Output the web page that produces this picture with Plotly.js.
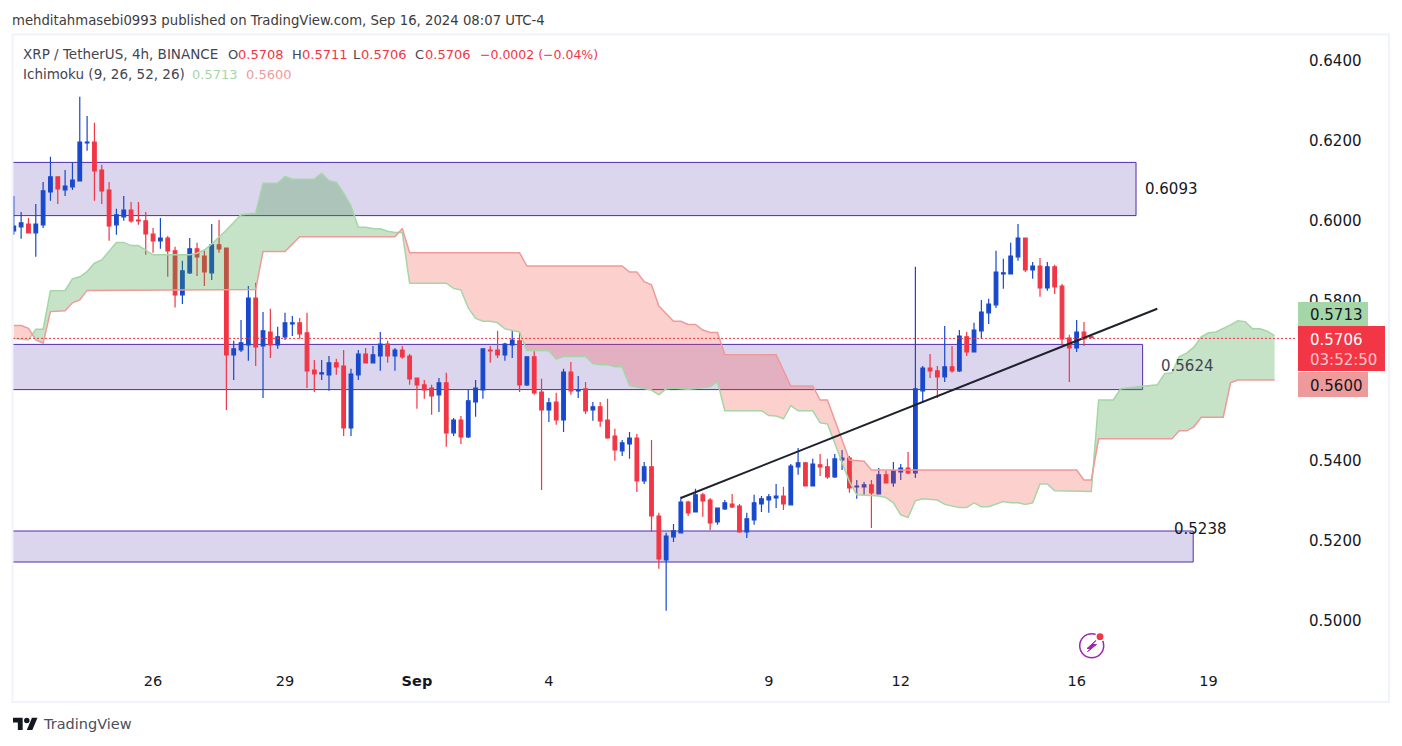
<!DOCTYPE html>
<html>
<head>
<meta charset="utf-8">
<script src="https://cdn.plot.ly/plotly-3.0.1.min.js"></script>
<style>html,body{margin:0;padding:0;background:#fff;overflow:hidden}#chart{width:1402px;height:746px}</style>
</head>
<body>
<div id="chart"></div>
<script>
// ---- candles (4h bars, XRP / TetherUS) ----
const openPrice = [
.5973,.5983,.5990,.5968,.5988,.6070,.6108,.6075,.6083,.6098,
.6193,.6195,.6125,.6075,.5988,.6008,.6025,.6000,.5998,.5965,
.5948,.5955,.5923,.5813,.5868,.5928,.5910,.5868,.5938,.5930,
.5663,.5675,.5688,.5805,.5685,.5720,.5688,.5708,.5740,.5743,
.5718,.5625,.5615,.5613,.5643,.5635,.5480,.5613,.5665,.5643,
.5660,.5690,.5660,.5675,.5660,.5605,.5588,.5580,.5563,.5593,
.5468,.5500,.5458,.5545,.5575,.5675,.5675,.5663,.5688,.5698,
.5588,.5658,.5570,.5525,.5545,.5500,.5620,.5573,.5578,.5525,
.5533,.5500,.5460,.5423,.5440,.5455,.5348,.5383,.5260,.5150,
.5208,.5218,.5295,.5270,.5313,.5300,.5245,.5278,.5290,.5285,
.5220,.5250,.5290,.5300,.5305,.5310,.5288,.5383,.5393,.5335,
.5388,.5383,.5358,.5400,.5405,.5333,.5333,.5338,.5315,.5363,
.5343,.5370,.5380,.5368,.5573,.5630,.5623,.5608,.5633,.5623,
.5708,.5670,.5723,.5768,.5788,.5865,.5865,.5908,.5955,.5875,
.5885,.5830,.5883,.5835,.5705,.5680,.5720,.5708];
const highPrice = [
.6060,.6020,.6005,.6040,.6095,.6158,.6108,.6125,.6145,.6308,
.6260,.6243,.6138,.6095,.6028,.6060,.6045,.6045,.6020,.5980,
.6005,.5960,.5933,.5898,.5955,.5943,.5925,.5990,.6000,.5930,
.5698,.5750,.5835,.5843,.5770,.5778,.5733,.5768,.5760,.5755,
.5768,.5650,.5650,.5660,.5653,.5675,.5628,.5675,.5680,.5685,
.5720,.5698,.5680,.5685,.5665,.5605,.5600,.5588,.5605,.5618,
.5505,.5510,.5575,.5600,.5678,.5685,.5723,.5693,.5723,.5720,
.5658,.5675,.5603,.5555,.5568,.5628,.5645,.5610,.5595,.5545,
.5545,.5553,.5478,.5450,.5470,.5465,.5395,.5450,.5268,.5218,
.5240,.5308,.5298,.5328,.5318,.5305,.5280,.5300,.5315,.5290,
.5268,.5313,.5310,.5315,.5340,.5333,.5390,.5430,.5395,.5403,
.5415,.5403,.5415,.5425,.5410,.5350,.5345,.5350,.5380,.5373,
.5395,.5390,.5420,.5883,.5635,.5665,.5635,.5735,.5685,.5725,
.5720,.5743,.5800,.5803,.5923,.5903,.5943,.5990,.5955,.5895,
.5905,.5895,.5888,.5840,.5713,.5750,.5745,.5711];
const lowPrice = [
.5963,.5953,.5968,.5908,.5980,.6048,.6040,.6060,.6075,.6098,
.6173,.6048,.6040,.5948,.5963,.5998,.5993,.5988,.5913,.5918,
.5928,.5858,.5781,.5790,.5865,.5860,.5835,.5850,.5918,.5525,
.5600,.5670,.5648,.5635,.5555,.5655,.5678,.5700,.5710,.5703,
.5580,.5570,.5600,.5573,.5613,.5460,.5460,.5600,.5643,.5643,
.5623,.5643,.5623,.5653,.5588,.5528,.5553,.5513,.5520,.5433,
.5460,.5440,.5455,.5508,.5553,.5643,.5655,.5648,.5655,.5570,
.5585,.5563,.5325,.5495,.5488,.5470,.5563,.5555,.5515,.5498,
.5483,.5453,.5398,.5410,.5403,.5320,.5340,.5220,.5128,.5023,
.5195,.5218,.5260,.5270,.5258,.5225,.5238,.5275,.5280,.5218,
.5205,.5238,.5270,.5268,.5280,.5275,.5288,.5363,.5335,.5335,
.5360,.5353,.5355,.5375,.5318,.5303,.5313,.5230,.5315,.5343,
.5333,.5350,.5365,.5355,.5545,.5605,.5555,.5595,.5618,.5620,
.5660,.5670,.5703,.5740,.5780,.5828,.5865,.5898,.5870,.5853,
.5808,.5823,.5815,.5685,.5595,.5670,.5685,.5706];
const closePrice = [
.5985,.5993,.5968,.5990,.6073,.6108,.6078,.6085,.6100,.6195,
.6195,.6123,.6073,.5985,.6013,.6025,.5998,.5998,.5965,.5948,
.5955,.5923,.5813,.5873,.5928,.5908,.5870,.5938,.5928,.5663,
.5678,.5693,.5805,.5683,.5723,.5688,.5708,.5743,.5743,.5715,
.5623,.5615,.5618,.5643,.5633,.5480,.5615,.5665,.5643,.5663,
.5690,.5660,.5675,.5658,.5603,.5588,.5575,.5560,.5593,.5468,
.5500,.5458,.5548,.5580,.5678,.5673,.5663,.5690,.5700,.5588,
.5658,.5568,.5525,.5543,.5500,.5620,.5573,.5575,.5523,.5533,
.5498,.5455,.5425,.5443,.5455,.5348,.5383,.5260,.5153,.5210,
.5223,.5295,.5268,.5313,.5298,.5243,.5280,.5293,.5283,.5220,
.5253,.5293,.5303,.5308,.5310,.5290,.5385,.5393,.5335,.5390,
.5383,.5358,.5403,.5405,.5330,.5335,.5338,.5318,.5363,.5343,
.5373,.5380,.5368,.5578,.5630,.5623,.5608,.5633,.5623,.5710,
.5670,.5725,.5770,.5790,.5870,.5868,.5910,.5955,.5875,.5885,
.5830,.5883,.5833,.5703,.5680,.5720,.5703,.5706];

// ---- Ichimoku cloud: vertices (bar number, price) ----
const leadingABar = [0,2,3,4,5,7,8,9,10,11,12,14,15,16,17,19,24,25,26,27,29,31,33,34,36,37,38,41,42,43,44,45,46,47,48,49,50,51,52,53,54,59,60,61,62,63,64,65,66,67,69,70,73,74,75,78,79,80,81,82,83,84,86,87,88,89,90,92,93,95,96,97,102,103,104,105,106,107,109,110,111,112,114,115,118,119,120,121,122,123,124,126,127,129,130,131,132,133,135,136,137,138,139,140,141,142,147,148,150,151,154,156,157,158,159,160,161,162,163,164,166,167,168,169,170,171,172];
const leadingAPrice = [.5704,.5700,.5727,.5727,.5823,.5824,.5853,.5858,.5871,.5892,.5900,.5944,.5944,.5936,.5936,.5913,.5913,.5917,.5925,.5940,.5975,.6013,.6017,.6092,.6092,.6109,.6102,.6102,.6117,.6098,.6094,.6067,.6035,.5982,.5982,.5979,.5978,.5972,.5969,.5969,.5842,.5842,.5829,.5825,.5780,.5754,.5747,.5747,.5743,.5728,.5720,.5674,.5673,.5652,.5659,.5659,.5641,.5638,.5638,.5633,.5633,.5586,.5579,.5575,.5563,.5578,.5580,.5577,.5579,.5583,.5596,.5523,.5523,.5511,.5510,.5503,.5536,.5523,.5523,.5493,.5490,.5442,.5346,.5313,.5310,.5306,.5293,.5263,.5256,.5298,.5303,.5300,.5289,.5281,.5281,.5293,.5283,.5283,.5296,.5293,.5293,.5289,.5293,.5340,.5340,.5323,.5321,.5550,.5550,.5578,.5585,.5588,.5616,.5618,.5658,.5667,.5682,.5708,.5718,.5720,.5738,.5748,.5746,.5728,.5728,.5722,.5711];
const leadingBBar = [0,1,2,3,4,5,7,8,9,10,33,34,37,39,52,53,54,69,70,83,84,85,86,87,88,90,91,92,93,94,95,96,97,104,106,109,110,111,114,116,117,145,146,147,148,158,159,160,161,162,165,166,167,172];
const leadingBPrice = [.5736,.5736,.5729,.5700,.5692,.5771,.5773,.5793,.5800,.5824,.5826,.5921,.5921,.5958,.5958,.5979,.5918,.5918,.5885,.5885,.5870,.5870,.5846,.5838,.5785,.5747,.5747,.5739,.5739,.5725,.5719,.5719,.5664,.5663,.5585,.5585,.5550,.5550,.5400,.5397,.5375,.5375,.5350,.5350,.5453,.5453,.5473,.5473,.5483,.5507,.5507,.5593,.5600,.5600];
const crossBar = [2.5,52.5,147.2];
const crossPrice = [.5715,.5969,.5374];

// ---- drawn zones, trend line and labels ----
const zoneTop = [.6144,.5689,.52225];
const zoneBottom = [.6011,.5576,.5145];
const zoneEndBar = [153.1,154,160.9];
const trendBars = [91,156];
const trendPrices = [.5305,.5778];
const zoneLabels = ["0.6093","0.5624","0.5238"];
const zoneLabelBars = [158,160.1,161.9];
const zoneLabelPrices = [.60775,.5635,.52265];
const lastPrice = .5704;

// ---- axes ----
const priceTicks = [.50,.52,.54,.58,.60,.62,.64];
const dayTickBars = [19,37,55,73,103,121,145,163];
const dayTickText = ["26","29","<b>Sep</b>","4","9","12","16","19"];

// ---- style ----
const UP = "#1848CC", DOWN = "#F23645";
const INK = "#131722", FONT = "DejaVu Sans";
const GREEN_LINE = "#A5D6A7", RED_LINE = "#EF9A9A";
const GREEN_FILL = "rgba(67,160,71,0.3)", RED_FILL = "rgba(244,67,54,0.25)";

const bars = openPrice.map((_, i) => i);
const PL = 13, PR = 1297, PT = 35, PB = 665;
const fx = p => (p - PL) / (PR - PL);
const fy = p => (PB - p) / (PB - PT);

function cloudPiece(from, to, fromP, toP, fill) {
  const pick = (xs, ys) => {
    const a = [], b = [];
    xs.forEach((x, k) => { if (x > from && x < to) { a.push(x); b.push(ys[k]); } });
    return [a, b];
  };
  const [ax, ay] = pick(leadingABar, leadingAPrice);
  const [bx, by] = pick(leadingBBar, leadingBPrice);
  const xs = [from].concat(ax, [to], bx.slice().reverse());
  const ys = [fromP].concat(ay, [toP], by.slice().reverse());
  return {type:"scatter", mode:"none", x:xs, y:ys, fill:"toself", fillcolor:fill, hoverinfo:"skip", showlegend:false};
}
const first = leadingABar[0], last = leadingABar[leadingABar.length-1];
const traces = [
  cloudPiece(first-0.001, crossBar[0], leadingBPrice[0], crossPrice[0], RED_FILL),
  cloudPiece(crossBar[0], crossBar[1], crossPrice[0], crossPrice[1], GREEN_FILL),
  cloudPiece(crossBar[1], crossBar[2], crossPrice[1], crossPrice[2], RED_FILL),
  cloudPiece(crossBar[2], last+0.001, crossPrice[2], leadingAPrice[leadingAPrice.length-1], GREEN_FILL),
  {type:"scatter", mode:"lines", x:leadingABar, y:leadingAPrice, line:{color:GREEN_LINE,width:1.5}, hoverinfo:"skip", showlegend:false},
  {type:"scatter", mode:"lines", x:leadingBBar, y:leadingBPrice, line:{color:RED_LINE,width:1.5}, hoverinfo:"skip", showlegend:false},
  {type:"candlestick", x:bars, open:openPrice, high:highPrice, low:lowPrice, close:closePrice,
   whiskerwidth:0, hoverinfo:"skip", showlegend:false,
   increasing:{line:{color:UP,width:1.2}, fillcolor:UP},
   decreasing:{line:{color:DOWN,width:1.2}, fillcolor:DOWN}}
];

const shapes = [];
zoneTop.forEach((t, k) => shapes.push({type:"rect", layer:"below", xref:"x", yref:"y",
  x0:-5, x1:zoneEndBar[k], y0:zoneBottom[k], y1:t,
  fillcolor:"rgba(81,45,168,0.2)", line:{color:"#512DA8",width:1}}));
shapes.push({type:"line", xref:"x", yref:"y", x0:trendBars[0], x1:trendBars[1], y0:trendPrices[0], y1:trendPrices[1],
  line:{color:"#1E222D",width:2}});
shapes.push({type:"line", xref:"paper", yref:"y", x0:0, x1:1, y0:lastPrice, y1:lastPrice,
  line:{color:DOWN,width:1,dash:"2px,2px"}});
// price scale tags
const tag = (x0,x1,y0,y1,c) => ({type:"rect", xref:"paper", yref:"paper", x0:fx(x0), x1:fx(x1), y0:fy(y1), y1:fy(y0), fillcolor:c, line:{width:0}});
shapes.push(tag(1298,1368,302,326,GREEN_LINE), tag(1298,1385,326,371,DOWN), tag(1298,1368,372,397,RED_LINE));
// outer frame
shapes.push({type:"rect", xref:"paper", yref:"paper", x0:fx(12.5), x1:fx(1389), y0:fy(702), y1:fy(34.5), line:{color:"#F0F3FA",width:2}, fillcolor:"rgba(0,0,0,0)"});
// brand mark
const pathOf = pts => "M" + pts.map(p => fx(p[0]) + "," + fy(p[1])).join("L") + "Z";
const lx = v => 13 + v*0.69, ly = v => 717.7 + (v-4)*0.68;
const paperPath = (pts, c, w) => ({type:"path", xref:"paper", yref:"paper", path:pathOf(pts), fillcolor:c, line:w?{color:c,width:w}:{width:0}});
shapes.push(paperPath([[14,22],[7,22],[7,11],[0,11],[0,4],[14,4]].map(p=>[lx(p[0]),ly(p[1])]), INK));
shapes.push(paperPath([[28,22],[20,22],[27.5,4],[35.5,4]].map(p=>[lx(p[0]),ly(p[1])]), INK));
const circ = (cx,cy,rx,fill,line) => ({type:"circle", xref:"paper", yref:"paper", x0:fx(cx-rx), x1:fx(cx+rx), y0:fy(cy+rx), y1:fy(cy-rx), fillcolor:fill, line:line});
shapes.push(circ(lx(20),ly(8),2.75,INK,{width:0}));
// replay/lightning icon
shapes.push(circ(1091.7,645.7,12,"rgba(0,0,0,0)",{color:"#9C27B0",width:1.5}));
shapes.push(paperPath([[1096,640.5],[1087,648.5],[1091.5,648.5],[1087.5,651.5],[1096.5,644.5],[1092,644.5]], "#9C27B0", 1));
shapes.push(circ(1100,636.7,5,"#fff",{width:0}));
shapes.push(circ(1100,636.7,3.4,DOWN,{width:0}));

const note = (px,py,text,size,color,extra) => Object.assign({xref:"paper", yref:"paper", x:fx(px), y:fy(py), text:text, showarrow:false,
  xanchor:"left", yanchor:"middle", borderpad:0, borderwidth:0, font:{family:FONT,size:size,color:color}}, extra||{});
const annotations = [
  note(12,20,"mehditahmasebi0993 published on TradingView.com, Sep 16, 2024 08:07 UTC-4",13.25,"#3c3c3c"),
  note(23,54,"XRP / TetherUS, 4h, BINANCE",13.5,"#434651"),
  note(228,54,"O",13,"#434651"),
  note(238,54,"0.5708",13,DOWN),
  note(292,54,"H",13,"#434651"),
  note(302,54,"0.5711",13,DOWN),
  note(353,54,"L",13,"#434651"),
  note(361,54,"0.5706",13,DOWN),
  note(415,54,"C",13,"#434651"),
  note(425,54,"0.5706",13,DOWN),
  note(480,54,"−0.0002 (−0.04%)",12.5,DOWN),
  note(23,74,"Ichimoku (9, 26, 52, 26)",13.5,"#434651"),
  note(192,74,"0.5713",13,GREEN_LINE),
  note(246,74,"0.5600",13,RED_LINE),
  note(43,724,"TradingView",14.5,"#4a4e5a"),
  note(1310,315,"0.5713",15,INK),
  note(1310,340,"0.5706",15,"#ffffff"),
  note(1310,360,"03:52:50",15,"rgba(255,255,255,0.72)"),
  note(1310,386,"0.5600",15,INK)
];
zoneLabels.forEach((t,k) => annotations.push({xref:"x", yref:"y", x:zoneLabelBars[k], y:zoneLabelPrices[k], text:t, showarrow:false,
  xanchor:"center", yanchor:"middle", font:{family:FONT,size:15,color:k===1?"#434651":INK}}));

const layout = {
  width:1402, height:746, margin:{l:PL, r:1402-PR, t:PT, b:746-PB, pad:0},
  paper_bgcolor:"#fff", plot_bgcolor:"#fff", showlegend:false, hovermode:false, boxgap:0.3, dragmode:false,
  font:{family:FONT,color:INK},
  xaxis:{range:[(PL-13.8)/7.33,(PR-13.8)/7.33], tickmode:"array", tickvals:dayTickBars, ticktext:dayTickText,
    showgrid:false, zeroline:false, showline:false, ticks:"outside", ticklen:3, tickcolor:"rgba(0,0,0,0)",
    tickfont:{family:FONT,size:14.5,color:INK}, rangeslider:{visible:false}, fixedrange:true},
  yaxis:{range:[0.655-PB/4000,0.655-PT/4000], side:"right", tickmode:"array", tickvals:priceTicks,
    ticktext:priceTicks.map(v=>v.toFixed(4)), showgrid:false, zeroline:false, showline:false,
    ticks:"outside", ticklen:8, tickcolor:"rgba(0,0,0,0)", ticklabelshift:1, tickfont:{family:FONT,size:15,color:INK}, fixedrange:true},
  shapes:shapes, annotations:annotations
};
Plotly.newPlot("chart", traces, layout, {displayModeBar:false, responsive:false});
</script>
</body>
</html>
